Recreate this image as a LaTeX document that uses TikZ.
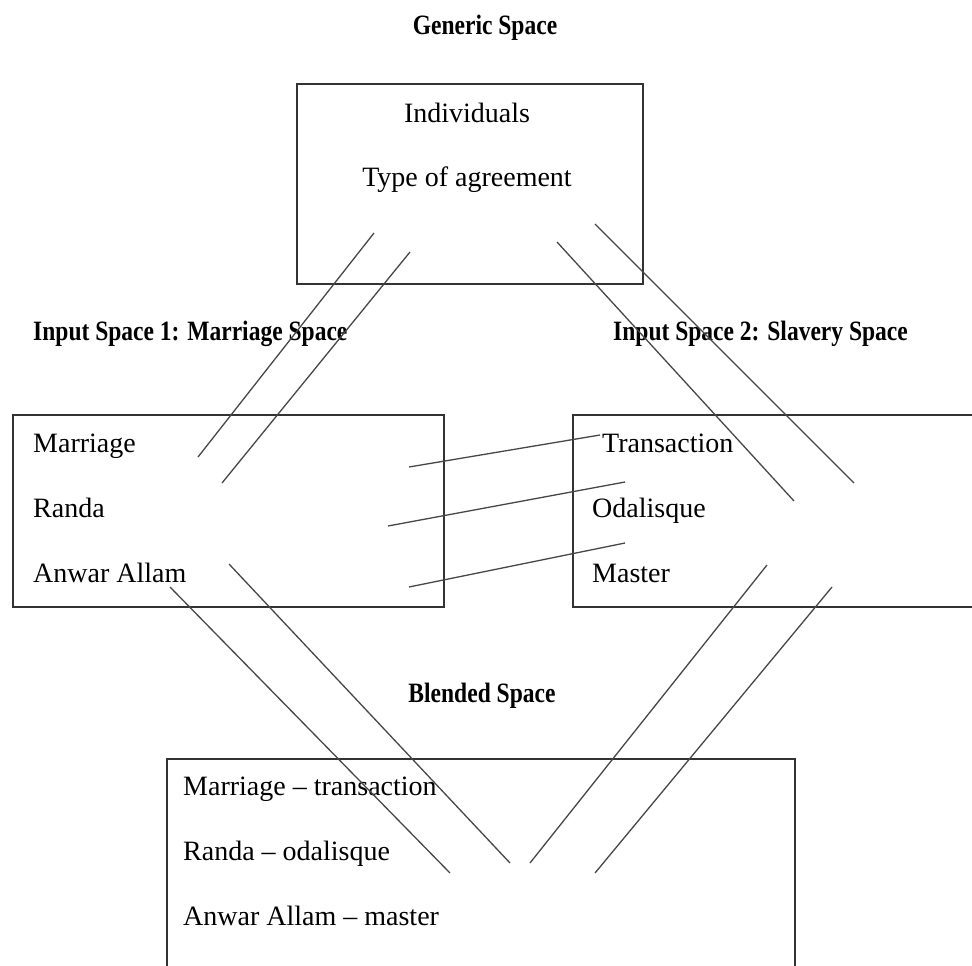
\documentclass[tikz,border=0pt]{standalone}
\usepackage{fontspec}
\setmainfont{Liberation Serif}
\newfontfamily\headfont[FakeStretch=0.84]{Liberation Serif}
\begin{document}
\begin{tikzpicture}[x=1pt,y=-1pt,
  spacebox/.style={draw=black!80, line width=1.6pt, inner sep=0pt, rectangle},
  item/.style={inner sep=0pt, text=black, font=\fontsize{28}{34}\selectfont},
  head/.style={inner sep=0pt, text=black, font=\headfont\bfseries\fontsize{28}{34}\selectfont},
  link/.style={draw=black!72, line width=1.3pt}]
\useasboundingbox (0,0) rectangle (972,966);
\clip (0,0) rectangle (972,966);
\fill[white] (0,0) rectangle (972,966);

% space titles
\node[head, anchor=base] (tgen) at (485,35) {Generic Space};
\node[head, anchor=base west] (tin1) at (33,340) {Input Space 1: Marriage Space};
\node[head, anchor=base west] (tin2) at (613,340) {Input Space 2: Slavery Space};
\node[head, anchor=base] (tbl) at (482,702) {Blended Space};

% the four spaces
\node[spacebox, minimum width=346pt, minimum height=200pt] (generic) at (470,184) {};
\node[spacebox, minimum width=431pt, minimum height=192pt] (input1) at (228.5,511) {};
\node[spacebox, minimum width=417pt, minimum height=192pt] (input2) at (781.5,511) {};
\node[spacebox, minimum width=628pt, minimum height=231pt] (blend) at (481,874.5) {};

% generic space contents
\node[item, anchor=base] (gind) at (467,122) {Individuals};
\node[item, anchor=base] (gtype) at (467,186) {Type of agreement};

% input space 1 contents
\node[item, anchor=base west] (mar) at (33,452) {Marriage};
\node[item, anchor=base west] (ran) at (33,517) {Randa};
\node[item, anchor=base west] (anw) at (33,582) {Anwar Allam};

% input space 2 contents
\node[item, anchor=base west] (tra) at (602,452) {Transaction};
\node[item, anchor=base west] (oda) at (592,517) {Odalisque};
\node[item, anchor=base west] (mas) at (592,582) {Master};

% blended space contents
\node[item, anchor=base west] (bmt) at (183,795) {Marriage -- transaction};
\node[item, anchor=base west] (bro) at (183,860) {Randa -- odalisque};
\node[item, anchor=base west] (bam) at (183,925) {Anwar Allam -- master};

% line end points
\coordinate (ga1) at (374,233);  \coordinate (ia1) at (198,457);
\coordinate (ga2) at (410,252);  \coordinate (ia2) at (222,483);
\coordinate (gb1) at (557,242);  \coordinate (ib1) at (794,501);
\coordinate (gb2) at (595,224);  \coordinate (ib2) at (854,483);
\coordinate (c1a) at (409,467);  \coordinate (c1b) at (600,435);
\coordinate (c2a) at (388,526);  \coordinate (c2b) at (625,482);
\coordinate (c3a) at (409,587);  \coordinate (c3b) at (625,543);
\coordinate (la1) at (170,587);  \coordinate (ba1) at (450,873);
\coordinate (la2) at (229,564);  \coordinate (ba2) at (510,863);
\coordinate (ra1) at (767,565);  \coordinate (bb1) at (530,863);
\coordinate (ra2) at (832,587);  \coordinate (bb2) at (595,873);

% generic space to input spaces
\draw[link] (ga1) -- (ia1);
\draw[link] (ga2) -- (ia2);
\draw[link] (gb1) -- (ib1);
\draw[link] (gb2) -- (ib2);
% cross-space mapping
\draw[link] (c1a) -- (c1b);
\draw[link] (c2a) -- (c2b);
\draw[link] (c3a) -- (c3b);
% input spaces to blend
\draw[link] (la1) -- (ba1);
\draw[link] (la2) -- (ba2);
\draw[link] (ra1) -- (bb1);
\draw[link] (ra2) -- (bb2);
\end{tikzpicture}
\end{document}
